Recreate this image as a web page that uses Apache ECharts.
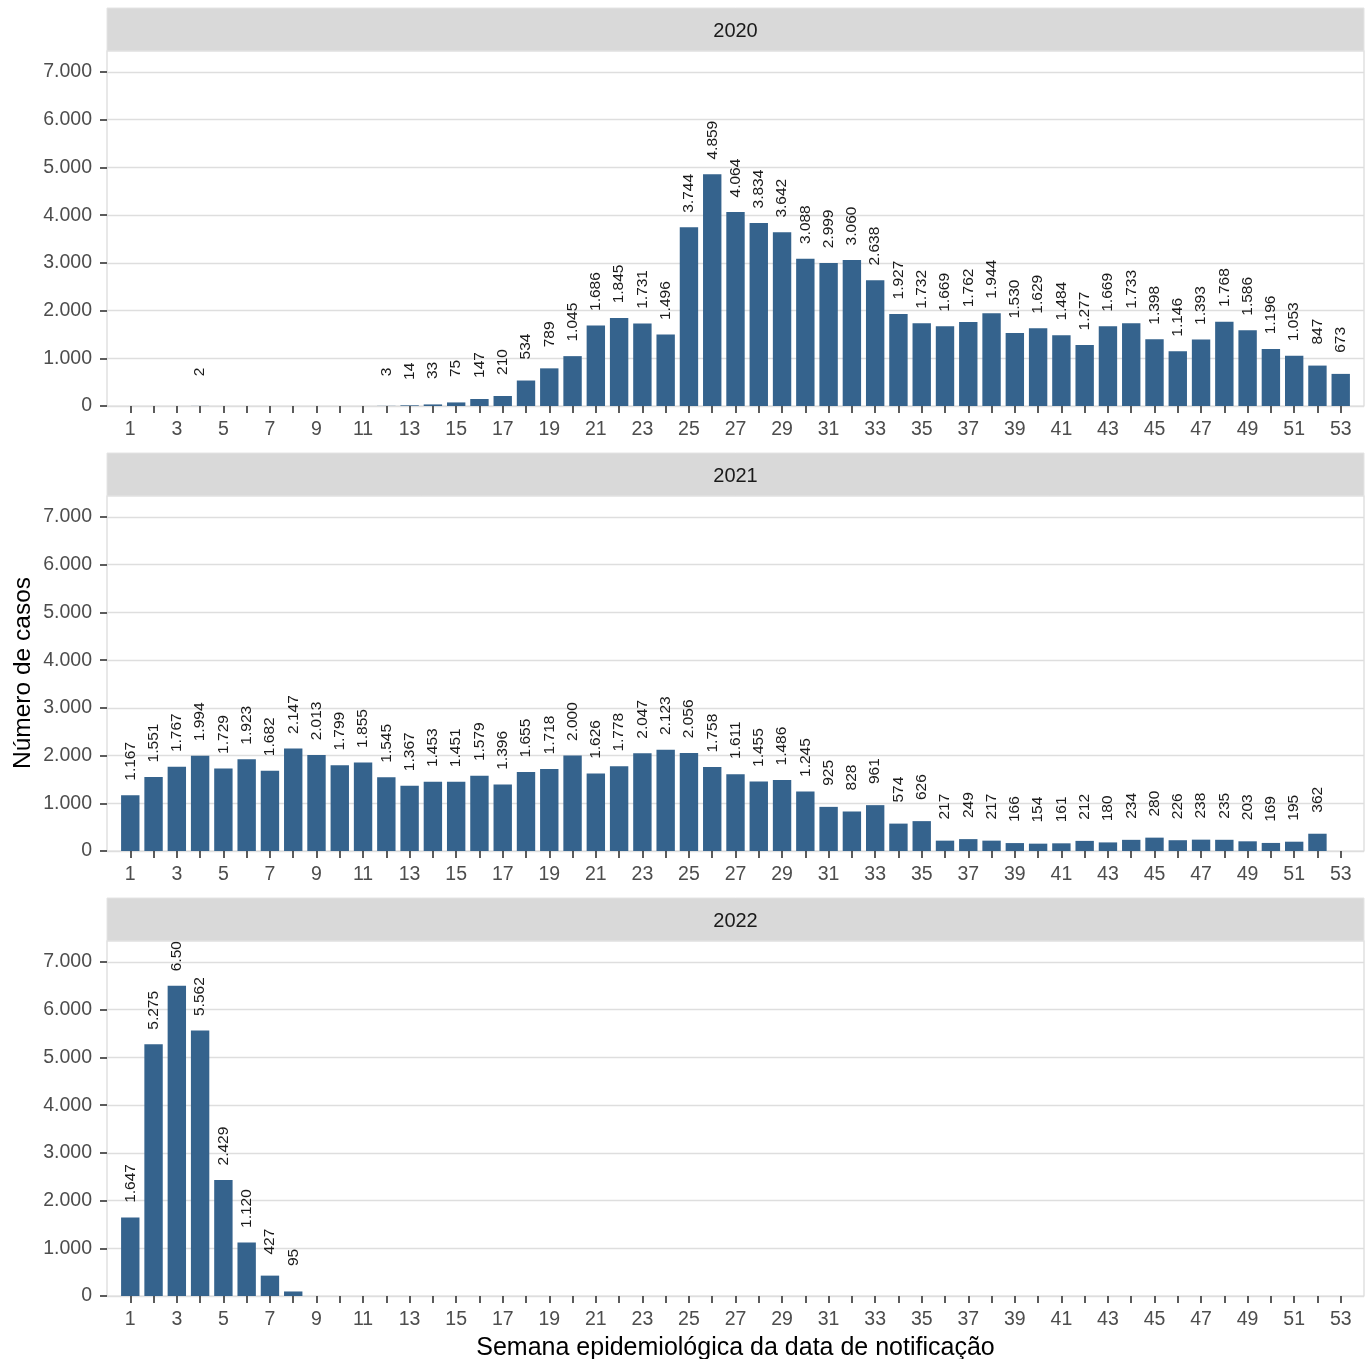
<!DOCTYPE html>
<html><head><meta charset="utf-8">
<script src="https://cdn.jsdelivr.net/npm/echarts@6/dist/echarts.min.js"></script>
<style>html,body{margin:0;padding:0;background:#fff}#c{width:1369px;height:1359px}</style>
</head><body><div id="c"></div><script>
// ---- data ----
const weeks = [1,2,3,4,5,6,7,8,9,10,11,12,13,14,15,16,17,18,19,20,21,22,23,24,25,26,27,28,29,30,31,32,33,34,35,36,37,38,39,40,41,42,43,44,45,46,47,48,49,50,51,52,53];
const years = ['2020','2021','2022'];
const casos2020 = [null,null,null,2,null,null,null,null,null,null,null,3,14,33,75,147,210,534,789,1045,1686,1845,1731,1496,3744,4859,4064,3834,3642,3088,2999,3060,2638,1927,1732,1669,1762,1944,1530,1629,1484,1277,1669,1733,1398,1146,1393,1768,1586,1196,1053,847,673];
const casos2021 = [1167,1551,1767,1994,1729,1923,1682,2147,2013,1799,1855,1545,1367,1453,1451,1579,1396,1655,1718,2000,1626,1778,2047,2123,2056,1758,1611,1455,1486,1245,925,828,961,574,626,217,249,217,166,154,161,212,180,234,280,226,238,235,203,169,195,362,null];
const casos2022 = [1647,5275,6500,5562,2429,1120,427,95,null,null,null,null,null,null,null,null,null,null,null,null,null,null,null,null,null,null,null,null,null,null,null,null,null,null,null,null,null,null,null,null,null,null,null,null,null,null,null,null,null,null,null,null,null];
const yTicks = [0,1000,2000,3000,4000,5000,6000,7000];
const xLabelWeeks = [1,3,5,7,9,11,13,15,17,19,21,23,25,27,29,31,33,35,37,39,41,43,45,47,49,51,53];
const yTitle = 'Número de casos';
const xTitle = 'Semana epidemiológica da data de notificação';

// ---- helpers ----
const fmt = v => String(v).replace(/\B(?=(\d{3})+(?!\d))/g, '.');
const series = [casos2020, casos2021, casos2022];
const FONT = '"Liberation Sans", Arial, sans-serif';
const W = 1369, L = 107, R = 5;
const panelTops = [51, 496, 941];
const panelH = 355, stripH = 43;
const PW = W - L - R;

const grid = [], xAxis = [], yAxis = [], ser = [], graphic = [];
panelTops.forEach((top, i) => {
  grid.push({left: L, right: R, top: top, height: panelH, show: true,
    borderColor: '#D9D9D9', borderWidth: 1.2, backgroundColor: 'transparent', containLabel: false});
  xAxis.push({type: 'value', gridIndex: i, min: 0, max: 54, interval: 1,
    axisLine: {show: false},
    axisTick: {show: true, length: 7, customValues: weeks, lineStyle: {color: '#333', width: 1.6}},
    axisLabel: {customValues: xLabelWeeks, color: '#4D4D4D', fontSize: 19.5, fontFamily: FONT, margin: 14,
      formatter: v => (v % 2 === 1 ? String(v) : '')},
    splitLine: {show: false}});
  yAxis.push({type: 'value', gridIndex: i, min: 0, max: 7440, interval: 1000,
    axisLine: {show: false},
    axisTick: {show: true, length: 7, customValues: yTicks, lineStyle: {color: '#333', width: 1.6}},
    axisLabel: {customValues: yTicks, color: '#4D4D4D', fontSize: 19.5, fontFamily: FONT, margin: 15,
      formatter: v => (v > 7000 ? '' : fmt(v))},
    splitLine: {show: true, lineStyle: {color: '#DEDEDE', width: 1.4}}});
  const data = [];
  weeks.forEach((w, k) => { if (series[i][k] !== null) data.push([w, series[i][k]]); });
  ser.push({type: 'bar', xAxisIndex: i, yAxisIndex: i, data: data, barCategoryGap: '21%',
    itemStyle: {color: '#35638D'},
    label: {show: true, position: 'top', distance: 34, rotate: 90, align: 'center', verticalAlign: 'middle',
      fontSize: 15.5, fontFamily: FONT, color: '#1a1a1a', formatter: p => fmt(p.value[1])}});
  graphic.push({type: 'rect', z: 100, shape: {x: L, y: top - stripH, width: PW, height: stripH},
    style: {fill: '#D9D9D9', stroke: '#E4E4E4', lineWidth: 1}});
  graphic.push({type: 'text', z: 101, x: L + PW / 2, y: top - stripH / 2 + 2,
    style: {text: years[i], fill: '#1a1a1a', font: '20px ' + FONT, textAlign: 'center', textVerticalAlign: 'middle'}});
});
graphic.push({type: 'text', z: 101, x: 23, y: 673, rotation: Math.PI / 2,
  style: {text: yTitle, fill: '#000', font: '24.5px ' + FONT, textAlign: 'center', textVerticalAlign: 'middle'}});
graphic.push({type: 'text', z: 101, x: L + PW / 2, y: 1348,
  style: {text: xTitle, fill: '#000', font: '25px ' + FONT, textAlign: 'center', textVerticalAlign: 'middle'}});

const chart = echarts.init(document.getElementById('c'), null, {renderer: 'canvas'});
chart.setOption({animation: false, backgroundColor: '#fff', grid, xAxis, yAxis, series: ser, graphic});
</script></body></html>
